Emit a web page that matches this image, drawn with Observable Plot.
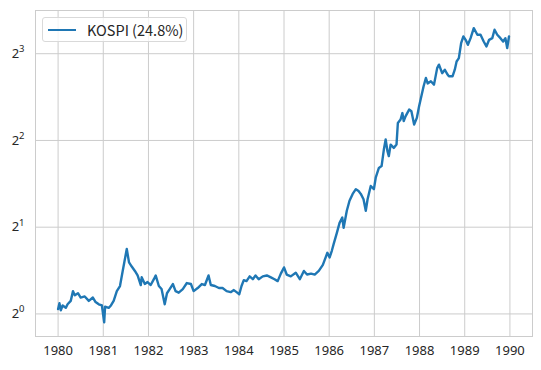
<!DOCTYPE html>
<html>
<head>
<meta charset="utf-8">
<script src="https://cdn.jsdelivr.net/npm/d3@7"></script>
<script src="https://cdn.jsdelivr.net/npm/@observablehq/plot@0.6"></script>
<style>
  html, body { margin: 0; padding: 0; background: #fff; }
  #wrap { position: relative; width: 541px; height: 370px; font-family: "Noto Sans CJK KR", "Noto Sans", sans-serif; }
  #legend { position: absolute; left: 42px; top: 17px; width: 145px; height: 25px; box-sizing: border-box;
    border: 1px solid #d9d9d9; border-radius: 3px; background: rgba(255,255,255,0.8);
    font-size: 14.5px; color: #262626; display: flex; align-items: center; }
  #legend .sw { width: 28px; height: 0; border-top: 2px solid #1f77b4; margin-left: 5px; margin-right: 11px; }
</style>
</head>
<body>
<div id="wrap"></div>
<script>
// Decimal years and normalized KOSPI index (start = ~1)
const years = [
  1980.00,1980.03,1980.06,1980.10,1980.17,1980.21,1980.28,1980.33,1980.37,1980.44,
  1980.50,1980.59,1980.68,1980.77,1980.83,1980.90,1980.97,1981.02,1981.04,1981.12,
  1981.17,1981.23,1981.30,1981.37,1981.43,1981.52,1981.57,1981.63,1981.70,1981.76,
  1981.83,1981.85,1981.92,1981.98,1982.05,1982.12,1982.16,1982.23,1982.29,1982.36,
  1982.41,1982.47,1982.54,1982.60,1982.67,1982.76,1982.85,1982.94,1983.00,1983.09,
  1983.18,1983.25,1983.33,1983.38,1983.47,1983.56,1983.64,1983.73,1983.82,1983.89,
  1983.95,1984.01,1984.06,1984.11,1984.17,1984.24,1984.31,1984.37,1984.44,1984.53,
  1984.62,1984.71,1984.79,1984.86,1984.93,1985.00,1985.06,1985.15,1985.26,1985.35,
  1985.44,1985.51,1985.60,1985.68,1985.77,1985.86,1985.96,1986.01,1986.06,1986.10,
  1986.17,1986.23,1986.29,1986.32,1986.39,1986.45,1986.52,1986.59,1986.65,1986.70,
  1986.76,1986.81,1986.85,1986.92,1986.99,1987.03,1987.10,1987.16,1987.21,1987.25,
  1987.29,1987.32,1987.36,1987.43,1987.49,1987.52,1987.58,1987.62,1987.65,1987.69,
  1987.77,1987.82,1987.88,1987.94,1987.99,1988.04,1988.09,1988.14,1988.18,1988.25,
  1988.32,1988.39,1988.43,1988.50,1988.56,1988.62,1988.65,1988.73,1988.78,1988.82,
  1988.87,1988.92,1988.97,1989.02,1989.07,1989.13,1989.20,1989.28,1989.35,1989.42,
  1989.48,1989.54,1989.61,1989.66,1989.72,1989.79,1989.85,1989.90,1989.94,1989.98
];
const kospi = [
  1.04,1.09,1.03,1.07,1.05,1.08,1.11,1.20,1.16,1.18,
  1.14,1.15,1.11,1.14,1.10,1.08,1.07,0.935,1.06,1.05,
  1.07,1.11,1.20,1.25,1.41,1.68,1.51,1.46,1.41,1.36,
  1.26,1.34,1.27,1.29,1.26,1.32,1.36,1.25,1.22,1.08,
  1.18,1.22,1.27,1.20,1.185,1.22,1.28,1.27,1.20,1.23,
  1.27,1.26,1.36,1.26,1.25,1.23,1.23,1.20,1.19,1.21,
  1.19,1.17,1.25,1.31,1.30,1.35,1.32,1.36,1.32,1.35,
  1.36,1.34,1.32,1.30,1.38,1.45,1.37,1.35,1.39,1.32,
  1.41,1.37,1.38,1.37,1.41,1.48,1.63,1.57,1.66,1.75,
  1.91,2.07,2.16,1.99,2.28,2.47,2.61,2.71,2.67,2.61,
  2.50,2.28,2.50,2.78,2.71,2.97,3.21,3.26,3.72,4.03,
  3.67,3.53,3.87,3.77,3.87,4.60,4.73,4.98,4.67,4.85,
  5.12,5.05,4.54,4.79,5.26,5.69,6.17,6.59,6.31,6.42,
  6.25,7.13,7.33,6.85,7.04,6.77,6.68,6.68,7.04,7.52,
  7.72,8.70,9.18,8.94,8.59,9.06,9.81,9.31,9.31,8.82,
  8.48,8.94,9.06,9.69,9.31,9.06,8.82,9.06,8.37,9.18
];
const xTicks = [1980,1981,1982,1983,1984,1985,1986,1987,1988,1989,1990];
const yTicks = [1,2,4,8];
const yTickExp = ["0","1","2","3"];
const seriesLabel = "KOSPI (24.8%)";

const data = years.map((t, i) => ({t, v: kospi[i]}));
const blue = "#1f77b4", grid = "#cccccc", ink = "#262626";

const chart = Plot.plot({
  width: 541, height: 370,
  marginLeft: 35, marginRight: 9, marginTop: 10, marginBottom: 34,
  style: {fontFamily: '"Noto Sans", sans-serif', fontSize: "13px", color: ink, background: "#fff"},
  x: {type: "linear", domain: [1979.5, 1990.5], ticks: xTicks, tickFormat: d3.format("d"), tickSize: 0, tickPadding: 9, label: null},
  y: {type: "log", base: 2, domain: [0.835, 11.3], ticks: yTicks, tickFormat: d => "2", tickSize: 0, tickPadding: 11, label: null},
  marks: [
    Plot.gridX(xTicks, {stroke: grid, strokeOpacity: 1, strokeWidth: 1}),
    Plot.gridY(yTicks, {stroke: grid, strokeOpacity: 1, strokeWidth: 1}),
    Plot.frame({stroke: grid, strokeWidth: 1}),
    Plot.line(data, {x: "t", y: "v", stroke: blue, strokeWidth: 2.4, strokeLinejoin: "round"})
  ]
});
document.getElementById("wrap").appendChild(chart);

// superscript exponents on y tick labels
const yLabels = chart.querySelectorAll('g[aria-label="y-axis tick label"] text');
yLabels.forEach((tx, i) => {
  tx.textContent = "";
  const base = document.createElementNS("http://www.w3.org/2000/svg", "tspan");
  base.textContent = "2";
  const sup = document.createElementNS("http://www.w3.org/2000/svg", "tspan");
  sup.textContent = yTickExp[i];
  sup.setAttribute("font-size", "9.5px");
  sup.setAttribute("dy", "-0.6em");
  tx.appendChild(base); tx.appendChild(sup);
});

const lg = document.createElement("div");
lg.id = "legend";
lg.innerHTML = '<span class="sw"></span><span></span>';
lg.lastChild.textContent = seriesLabel;
document.getElementById("wrap").appendChild(lg);
</script>
</body>
</html>
